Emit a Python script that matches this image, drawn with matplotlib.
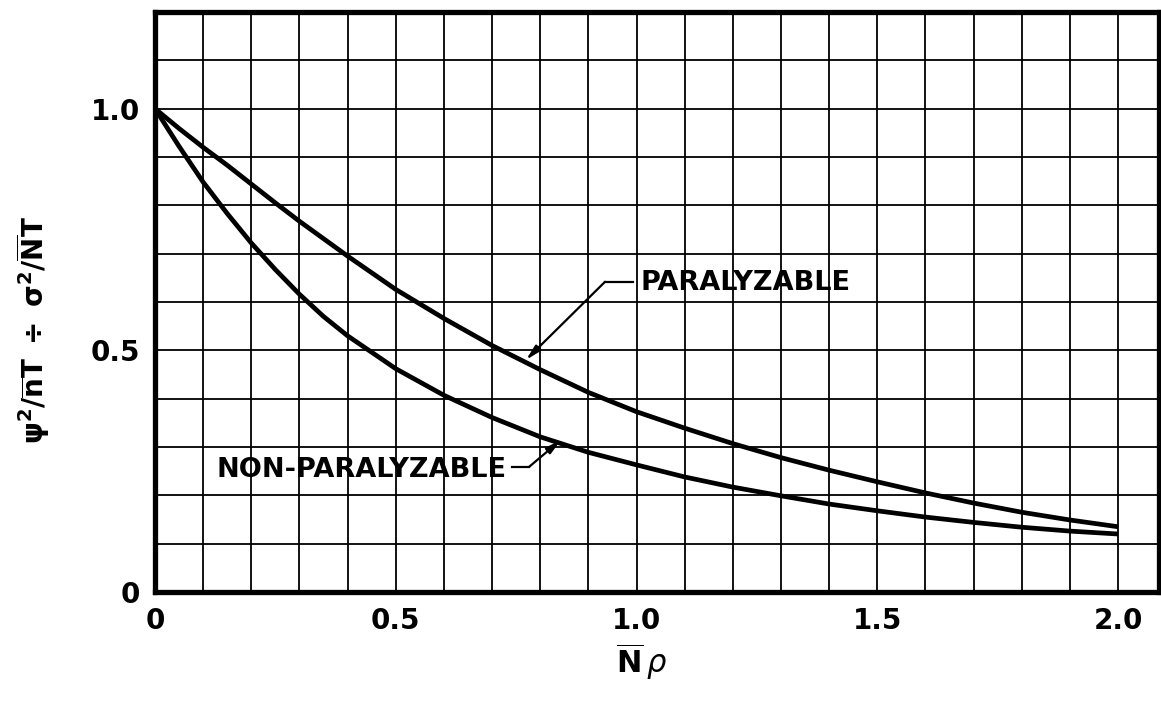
import matplotlib
matplotlib.use("Agg")
import matplotlib.pyplot as plt
import numpy as np

# Data
x_vals = [0.0, 0.05, 0.1, 0.15, 0.2, 0.25, 0.3, 0.35, 0.4, 0.5, 0.6, 0.7, 0.8,
          0.9, 1.0, 1.1, 1.2, 1.3, 1.4, 1.5, 1.6, 1.7, 1.8, 1.9, 2.0]
paralyzable = [1.0, 0.959, 0.920, 0.883, 0.844, 0.805, 0.767, 0.731, 0.695,
               0.626, 0.566, 0.510, 0.460, 0.413, 0.373, 0.339, 0.307, 0.278,
               0.252, 0.228, 0.205, 0.184, 0.165, 0.149, 0.135]
non_paralyzable = [1.0, 0.922, 0.848, 0.783, 0.722, 0.667, 0.616, 0.570, 0.530,
                   0.462, 0.407, 0.361, 0.321, 0.289, 0.263, 0.238, 0.217,
                   0.199, 0.182, 0.168, 0.155, 0.144, 0.134, 0.126, 0.120]
x_ticks = [0, 0.5, 1.0, 1.5, 2.0]
x_ticklabels = ["0", "0.5", "1.0", "1.5", "2.0"]
y_ticks = [0, 0.5, 1.0]
y_ticklabels = ["0", "0.5", "1.0"]

plt.rcParams['mathtext.fontset'] = 'dejavusans'

fig = plt.figure(figsize=(11.61, 7.13), dpi=100)
ax = fig.add_axes([155/1161, 1 - 592/713, (1159-155)/1161, (592-12)/713])

ax.set_xlim(0, 2.085)
ax.set_ylim(0, 1.20)

# grid
for gx in np.arange(0.1, 2.05, 0.1):
    ax.axvline(gx, color='black', lw=1.3, zorder=1)
for gy in np.arange(0.1, 1.15, 0.1):
    ax.axhline(gy, color='black', lw=1.3, zorder=1)

ax.plot(x_vals, paralyzable, color='black', lw=3.4, solid_capstyle='butt',
        solid_joinstyle='round', zorder=3)
ax.plot(x_vals, non_paralyzable, color='black', lw=3.4, solid_capstyle='butt',
        solid_joinstyle='round', zorder=3)

for s in ax.spines.values():
    s.set_linewidth(3.8)
    s.set_color('black')

ax.set_xticks(x_ticks)
ax.set_xticklabels(x_ticklabels)
ax.set_yticks(y_ticks)
ax.set_yticklabels(y_ticklabels)
ax.tick_params(length=0, labelsize=20, pad=11)
for lbl in ax.get_xticklabels() + ax.get_yticklabels():
    lbl.set_fontweight('bold')

def px2d(px, py):
    return ((px - 155) / 481.5, (592 - py) / 483.0)

# Annotations
tk = dict(fontsize=19.5, fontweight='bold', va='center', zorder=5)
pt = px2d(640, 283)
ax.text(pt[0], pt[1], "PARALYZABLE", ha='left', **tk)
k1 = px2d(605, 282); h1 = px2d(633, 282); t1 = px2d(526, 360)
ax.plot([k1[0], h1[0]], [k1[1], h1[1]], color='black', lw=1.6, zorder=4)
ax.annotate('', xy=t1, xytext=k1,
            arrowprops=dict(arrowstyle='-|>,head_length=0.9,head_width=0.22',
                            color='black', lw=1.6, shrinkA=0, shrinkB=0), zorder=4)

pt2 = px2d(506, 470)
ax.text(pt2[0], pt2[1], "NON-PARALYZABLE", ha='right', **tk)
k2 = px2d(529, 467); h2 = px2d(512, 467); t2 = px2d(561, 440)
ax.plot([h2[0], k2[0]], [h2[1], k2[1]], color='black', lw=1.6, zorder=4)
ax.annotate('', xy=t2, xytext=k2,
            arrowprops=dict(arrowstyle='-|>,head_length=0.9,head_width=0.22',
                            color='black', lw=1.6, shrinkA=0, shrinkB=0), zorder=4)

# Axis labels
fig.text(33/1161, 1 - 330/713,
         r'$\mathbf{\psi^2/\overline{n}T\ \div\ \sigma^2/\overline{N}T}$',
         rotation=90, ha='center', va='center', fontsize=20)
fig.text(642/1161, 1 - 662/713, r'$\mathbf{\overline{N}}\,\rho$',
         ha='center', va='center', fontsize=22)

fig.savefig("out.png", dpi=100)
